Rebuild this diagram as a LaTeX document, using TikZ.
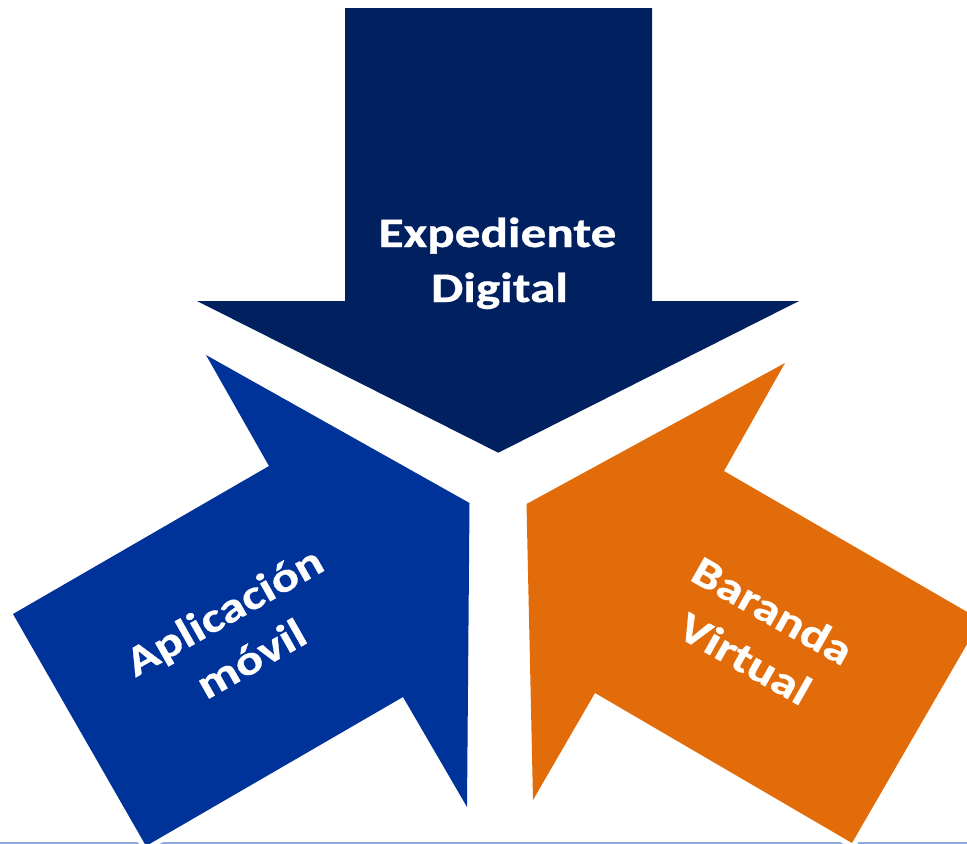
\documentclass[tikz,border=0pt]{standalone}
\usepackage{fontspec}
\setmainfont{Carlito}[BoldFeatures={FakeBold=0.7}]
\definecolor{navyarrow}{RGB}{0,32,96}
\definecolor{bluearrow}{RGB}{0,51,153}
\definecolor{orangearrow}{RGB}{227,108,10}
\definecolor{rulecolor}{RGB}{143,170,220}
\tikzset{
  arrowoutline/.style={draw=white, line width=10bp, line join=round},
  lbl/.style={text=white, font=\bfseries\fontsize{42bp}{49bp}\selectfont,
              anchor=base, inner sep=0pt, xscale=1.22},
  bottomrule/.style={draw=rulecolor, line width=2bp}
}
\begin{document}
\begin{tikzpicture}[x=1bp,y=-1bp]
\useasboundingbox (0,0) rectangle (967,844);
\clip (0,0) rectangle (967,844);
% bottom rule
\coordinate (ruleL) at (0,843);
\coordinate (ruleR) at (967,843);
\draw[bottomrule] (ruleL) -- (ruleR);
% top arrow
\def\toparrow{(345,8) -- (652,8) -- (652,301) -- (799,301) -- (498.3,452.7) -- (197,301) -- (345,301) -- cycle}
\draw[arrowoutline] \toparrow;
\fill[navyarrow] \toparrow;
% left arrow
\def\leftarrow{(206,355) -- (469.5,503) -- (467,807) -- (403,697) -- (146,846) -- (13,614) -- (269,466) -- cycle}
\draw[arrowoutline] \leftarrow;
\fill[bluearrow] \leftarrow;
% right arrow
\def\rightarrowshape{(526.5,504) -- (785,363) -- (724,471) -- (981,620) -- (852,843) -- (595,693) -- (533,800) -- cycle}
\draw[arrowoutline] \rightarrowshape;
\fill[orangearrow] \rightarrowshape;
% labels
\node[lbl] (exp1) at (497.5,247) {Expediente};
\node[lbl] (exp2) at (499.5,302) {Digital};
\node[rotate=29.5,lbl] (apl1) at (231,623.5) {Aplicación};
\node[rotate=29.5,lbl] (apl2) at (258,671) {móvil};
\node[rotate=-29.5,lbl] (bar1) at (765.5,623) {Baranda};
\node[rotate=-29.5,lbl] (bar2) at (738,671) {Virtual};
\end{tikzpicture}
\end{document}
